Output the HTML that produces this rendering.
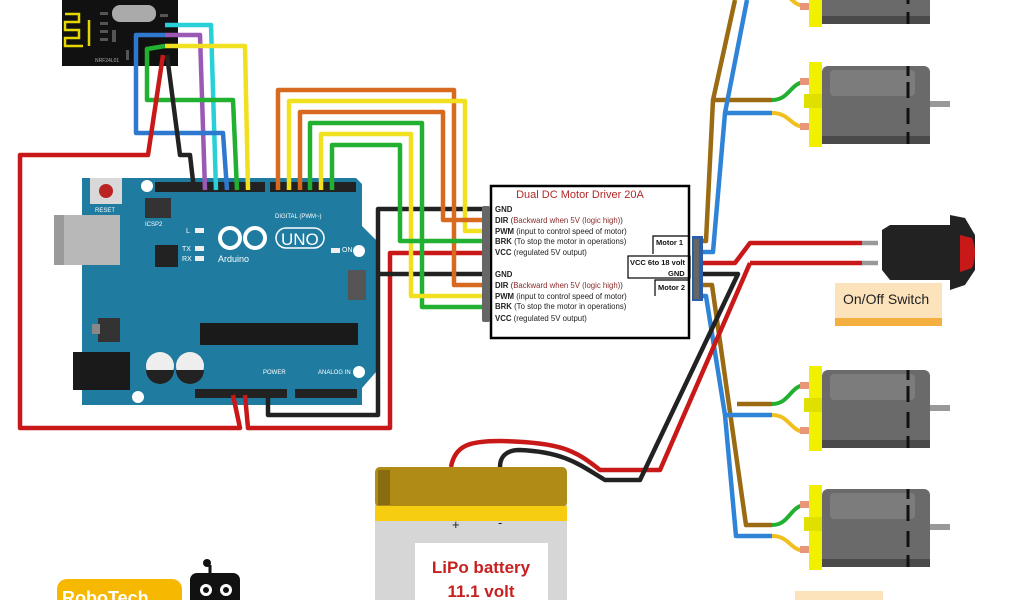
<!DOCTYPE html>
<html><head><meta charset="utf-8"><style>
html,body{margin:0;padding:0;background:#fff;width:1024px;height:600px;overflow:hidden}
svg{display:block}
text{font-family:"Liberation Sans",sans-serif}
</style></head><body>
<svg width="1024" height="600" viewBox="0 0 1024 600" xmlns="http://www.w3.org/2000/svg">
<!-- Radio module -->
<rect x="62" y="0" width="116" height="66" fill="#111"/>
<rect x="112" y="5" width="44" height="17" rx="8" fill="#aaa"/>
<path d="M65 14h14v8h-14v8h14v8h-14v8h18M89 20v26" stroke="#e6d600" stroke-width="2.5" fill="none"/>
<g fill="#555"><rect x="100" y="12" width="8" height="3"/><rect x="100" y="22" width="8" height="3"/><rect x="100" y="30" width="8" height="3"/><rect x="100" y="38" width="8" height="3"/><rect x="112" y="30" width="4" height="12"/><rect x="160" y="14" width="8" height="3"/><rect x="126" y="50" width="3" height="10"/></g>
<text x="95" y="62" font-size="5" fill="#aaa">NRF24L01</text>

<!-- Arduino board -->
<path d="M82 178 H356 L362 184 V226 L376 240 V372 L362 388 V405 H82 Z" fill="#1f7ca0"/>
<rect x="54" y="215" width="66" height="50" fill="#b8b8b8"/><rect x="54" y="215" width="10" height="50" fill="#9a9a9a"/>
<rect x="73" y="352" width="57" height="38" fill="#1a1a1a"/>
<rect x="90" y="178" width="32" height="26" fill="#d8d8d8"/><circle cx="106" cy="191" r="7" fill="#b22"/>
<text x="95" y="212" font-size="6" fill="#fff">RESET</text>
<rect x="145" y="198" width="26" height="20" fill="#333"/>
<text x="145" y="226" font-size="6" fill="#fff">ICSP2</text>
<rect x="155" y="245" width="23" height="22" fill="#222"/>
<rect x="98" y="318" width="22" height="24" fill="#333"/><rect x="92" y="324" width="8" height="10" fill="#888"/>
<rect x="200" y="323" width="158" height="22" fill="#1a1a1a"/>
<circle cx="160" cy="366" r="14" fill="#eee"/><path d="M146 370 A14 14 0 0 0 174 370Z" fill="#222"/>
<circle cx="190" cy="366" r="14" fill="#eee"/><path d="M176 370 A14 14 0 0 0 204 370Z" fill="#222"/>
<circle cx="147" cy="186" r="6" fill="#fff"/><circle cx="359" cy="251" r="6" fill="#fff"/><circle cx="359" cy="372" r="6" fill="#fff"/><circle cx="138" cy="397" r="6" fill="#fff"/>
<rect x="195" y="228" width="9" height="5" fill="#eee"/><rect x="195" y="246" width="9" height="5" fill="#eee"/><rect x="195" y="256" width="9" height="5" fill="#eee"/><rect x="331" y="248" width="9" height="5" fill="#eee"/>
<text x="186" y="233" font-size="7" fill="#fff">L</text><text x="182" y="251" font-size="7" fill="#fff">TX</text><text x="182" y="261" font-size="7" fill="#fff">RX</text><text x="342" y="252" font-size="7" fill="#fff">ON</text>
<circle cx="230" cy="238" r="10" fill="none" stroke="#fff" stroke-width="4"/><circle cx="255" cy="238" r="10" fill="none" stroke="#fff" stroke-width="4"/>
<rect x="276" y="228" width="48" height="20" rx="10" fill="none" stroke="#fff" stroke-width="1.5"/>
<text x="281" y="245" font-size="17" fill="#fff">UNO</text>
<text x="218" y="262" font-size="9" fill="#fff" font-family="Liberation Mono">Arduino</text>
<text x="275" y="218" font-size="6" fill="#fff">DIGITAL (PWM~)</text>
<text x="263" y="374" font-size="6" fill="#fff">POWER</text><text x="318" y="374" font-size="6" fill="#fff">ANALOG IN</text>
<rect x="348" y="270" width="18" height="30" fill="#555"/>
<!-- headers -->
<rect x="155" y="182" width="110" height="10" fill="#222"/><rect x="270" y="182" width="86" height="10" fill="#222"/>
<rect x="195" y="389" width="92" height="9" fill="#222"/><rect x="295" y="389" width="62" height="9" fill="#222"/>

<!-- wires from radio -->
<g fill="none" stroke-width="4.5" stroke-linejoin="round">
<path d="M165 25 H211 L216 190" stroke="#28d0d8"/>
<path d="M165 35 H200 L205 190" stroke="#9b59b6"/>
<path d="M165 35 H136 V133 H223 L227 190" stroke="#2f78d0"/>
<path d="M165 46 H245 L248 190" stroke="#f0e020"/>
<path d="M165 46 L147 49 V100 H233 L237 190" stroke="#22b030"/>
<path d="M167 55 L180 155 H190 L194 190" stroke="#222"/>
<path d="M163 55 L148 155 H20 V428 H240 L233 395" stroke="#c81818"/>
<path d="M245 395 L248 428 H390 V253 H488" stroke="#c81818"/>
<path d="M268 395 V415 H378 V209 H488 M378 274 H488" stroke="#222"/>
<!-- digital -->
<path d="M278 190 V90 H454 V285 H488" stroke="#d86a20"/>
<path d="M289 190 V101 H465 V231 H488" stroke="#f0e020"/>
<path d="M300 190 V112 H443 V220 H488" stroke="#d86a20"/>
<path d="M310 190 V123 H422 V307 H488" stroke="#22b030"/>
<path d="M321 190 V134 H411 V296 H488" stroke="#f0e020"/>
<path d="M332 190 V145 H400 V241 H488" stroke="#22b030"/>
<!-- motor wires -->
<path d="M700 241 H706 L713 100 L735 0 M713 100 H772" stroke="#9a6b12"/>
<path d="M700 252 H713 L725 113 L747 0 M725 113 H772" stroke="#2f84d8"/>
<path d="M700 285 H712 L746 525 H772 M737 404 H772" stroke="#9a6b12"/>
<path d="M700 296 H706 L725 415 L736 536 H772 M725 415 H772" stroke="#2f84d8"/>
<!-- power -->
<path d="M700 263 H735 L750 243 H862 M750 263 H862 M750 263 L660 470 H600 C575 450 560 442 500 441 C470 441 455 445 451 467" stroke="#c81818"/>
<path d="M700 274 H738 L640 480 H605 C580 465 565 452 520 450 C505 450 500 458 500 467" stroke="#222"/>
<path d="M862 243 H878 M862 263 H878" stroke="#999"/>
</g>
<!-- motor connector curves -->
<g fill="none" stroke-width="4">
<path d="M772 100 C790 100 790 82 806 82" stroke="#22b030"/><path d="M772 113 C790 113 790 127 806 127" stroke="#f0c020"/>
<path d="M772 404 C790 404 790 385 806 385" stroke="#22b030"/><path d="M772 415 C790 415 790 432 806 432" stroke="#f0c020"/>
<path d="M772 525 C790 525 790 505 806 505" stroke="#22b030"/><path d="M772 536 C790 536 790 551 806 551" stroke="#f0c020"/>
<path d="M772 -10 C790 -10 790 6 806 6" stroke="#f0c020"/>
</g>

<!-- driver -->
<rect x="491" y="186" width="198" height="152" fill="#fff" stroke="#000" stroke-width="2.5"/>
<text x="580" y="198" font-size="11" fill="#b02828" text-anchor="middle">Dual DC Motor Driver 20A</text>
<g font-size="7.8" fill="#222">
<text x="495" y="212"><tspan font-weight="bold">GND</tspan></text>
<text x="495" y="223"><tspan font-weight="bold">DIR</tspan> (<tspan fill="#8a2a2a">Backward when 5V (logic high)</tspan>)</text>
<text x="495" y="234"><tspan font-weight="bold">PWM</tspan> (input to control speed of motor)</text>
<text x="495" y="244"><tspan font-weight="bold">BRK</tspan> (To stop the motor in operations)</text>
<text x="495" y="255"><tspan font-weight="bold">VCC</tspan> (regulated 5V output)</text>
<text x="495" y="277"><tspan font-weight="bold">GND</tspan></text>
<text x="495" y="288"><tspan font-weight="bold">DIR</tspan> (<tspan fill="#8a2a2a">Backward when 5V (logic high)</tspan>)</text>
<text x="495" y="299"><tspan font-weight="bold">PWM</tspan> (input to control speed of motor)</text>
<text x="495" y="309"><tspan font-weight="bold">BRK</tspan> (To stop the motor in operations)</text>
<text x="495" y="321"><tspan font-weight="bold">VCC</tspan> (regulated 5V output)</text>
</g>
<g fill="none" stroke="#000" stroke-width="1.2"><path d="M653 254 V236 H690"/><rect x="628" y="256" width="62" height="22"/><path d="M655 296 V280 H690"/></g>
<g font-size="7.5" font-weight="bold" fill="#111"><text x="656" y="245">Motor 1</text><text x="630" y="265">VCC 6to 18 volt</text><text x="668" y="276">GND</text><text x="658" y="290">Motor 2</text></g>
<rect x="692" y="236" width="11" height="65" fill="#2a5fa8"/>
<g fill="#666"><rect x="482" y="206" width="8" height="116" rx="2"/><rect x="694" y="239" width="5" height="60"/></g>

<!-- motors -->
<g id="m">
<rect x="822" y="66" width="108" height="78" rx="6" fill="#6a6a6a"/>
<rect x="830" y="70" width="85" height="26" rx="4" fill="#7c7c7c"/>
<rect x="822" y="136" width="108" height="8" fill="#4a4a4a"/>
<rect x="930" y="101" width="20" height="6" fill="#999"/>
<path d="M908 66v10M908 82v16M908 108v16M908 132v12" stroke="#111" stroke-width="3"/>
<rect x="809" y="62" width="13" height="85" fill="#f0f000"/>
<rect x="804" y="94" width="18" height="14" fill="#e0e000"/>
<rect x="800" y="78" width="9" height="7" fill="#e8957a"/><rect x="800" y="123" width="9" height="7" fill="#e8957a"/>
</g>
<use href="#m" transform="translate(0,304)"/>
<use href="#m" transform="translate(0,423)"/>
<use href="#m" transform="translate(0,-120)"/>

<!-- switch -->
<path d="M882 230 L890 225 H950 V215 L965 218 L975 235 V270 L965 285 L950 290 V280 H890 L882 270 Z" fill="#222"/>
<path d="M960 235 L972 238 Q978 253 972 268 L960 272 Z" fill="#c81818"/>
<rect x="835" y="283" width="107" height="40" fill="#fde3bb"/>
<rect x="835" y="318" width="107" height="8" fill="#f3b040"/>
<text x="843" y="304" font-size="14" fill="#222">On/Off Switch</text>
<rect x="795" y="591" width="88" height="9" fill="#fde3bb"/>

<!-- battery -->
<rect x="375" y="467" width="192" height="140" rx="5" fill="#d6d6d6"/>
<rect x="375" y="467" width="192" height="40" rx="5" fill="#b08c16"/>
<rect x="378" y="470" width="12" height="35" fill="#8a6c10"/>
<rect x="375" y="506" width="192" height="15" fill="#f6cd10"/>
<text x="452" y="529" font-size="13" fill="#222">+</text><text x="498" y="527" font-size="13" fill="#222">-</text>
<rect x="415" y="543" width="133" height="60" fill="#fff"/>
<text x="481" y="573" font-size="17" fill="#c82020" text-anchor="middle" font-weight="bold">LiPo battery</text>
<text x="481" y="597" font-size="17" fill="#c82020" text-anchor="middle" font-weight="bold">11.1 volt</text>

<!-- logo -->
<rect x="57" y="579" width="125" height="30" rx="10" fill="#f6b800"/>
<text x="62" y="604" font-size="18" font-weight="bold" fill="#fff">RoboTech</text>
<rect x="190" y="573" width="50" height="35" rx="7" fill="#111"/>
<path d="M210 573 V565" stroke="#111" stroke-width="3"/><circle cx="207" cy="563" r="4" fill="#111"/>
<circle cx="206" cy="590" r="6" fill="#fff"/><circle cx="226" cy="590" r="6" fill="#fff"/>
<circle cx="206" cy="590" r="3" fill="#111"/><circle cx="226" cy="590" r="3" fill="#111"/>
</svg>
</body></html>
